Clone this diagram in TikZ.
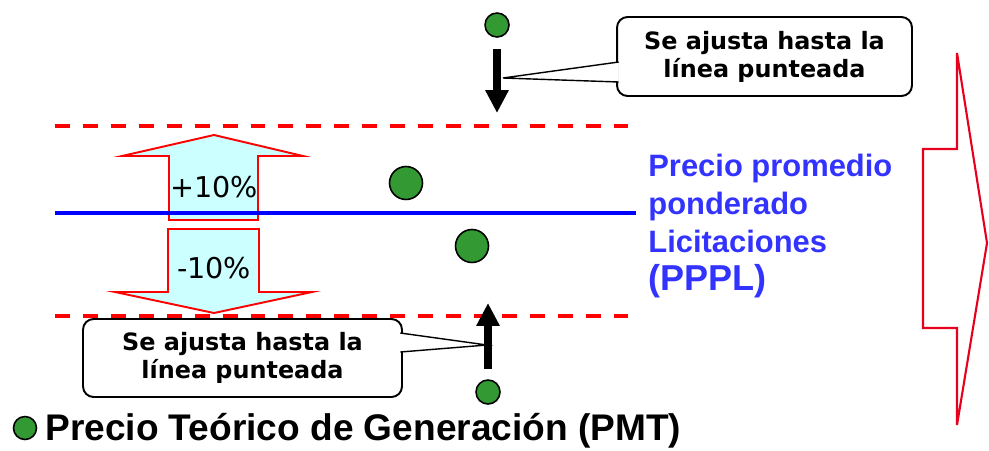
\documentclass[tikz,border=0pt]{standalone}
\usepackage{fontspec}
\setmainfont{Liberation Sans}
\newfontfamily\verd{DejaVu Sans}
\usepackage{tikz}
\usetikzlibrary{arrows.meta}
\usepackage{xcolor}
\definecolor{pmtgreen}{RGB}{51,153,51}
\definecolor{pplblue}{RGB}{51,51,255}
\definecolor{bandfill}{RGB}{204,255,255}
\definecolor{bigred}{RGB}{230,0,30}
\newcommand\notefont{\verd\bfseries\fontsize{13.6pt}{16pt}\selectfont}
\newcommand\pctfont{\verd\fontsize{16.3pt}{19pt}\selectfont}

\begin{document}
\begin{tikzpicture}[x=0.02cm,y=-0.02cm,
    dot/.style={circle,draw=black,line width=0.9pt,fill=pmtgreen,inner sep=0pt},
    limit/.style={red,line width=2.2pt,dash pattern=on 8.5pt off 7.4pt},
    band/.style={draw=red,line width=1.1pt,fill=bandfill},
    push/.style={line width=4.5pt,-{Triangle[length=13pt,width=12.5pt]}},
    note/.style={draw,line width=1.1pt,rounded corners=6pt,fill=white,align=center,font=\notefont,inner sep=0pt},
    pin/.style={draw,line width=0.8pt,fill=white}]
      \useasboundingbox (0,0) rectangle (989,450);
      \draw[limit] (55,126) -- (628,126);
      \draw[limit] (55,316) -- (628,316);
      \draw[band] (169,220) -- (169,156) -- (122,156) -- (214,135) -- (303,156) -- (258,156) -- (258,220) -- cycle;
      \draw[band] (168,229) -- (168,292) -- (115,292) -- (214,313) -- (312,292) -- (259,292) -- (259,229) -- cycle;
      \node[font=\pctfont] (plus) at (214,187) {+10\%};
      \node[font=\pctfont] (minus) at (214,268) {-10\%};
      \draw[blue,line width=2.2pt] (55,213) -- (636,213);
      \node[dot,minimum size=0.48cm] (topdot) at (497,25) {};
      \node[dot,minimum size=0.66cm] (highdot) at (406,183) {};
      \node[dot,minimum size=0.66cm] (lowdot) at (472,246) {};
      \node[dot,minimum size=0.48cm] (botdot) at (488,392) {};
      \coordinate (toptip) at (497,113);
      \coordinate (bottip) at (488,303);
      \draw[push] ([yshift=-0.22cm]topdot.south) -- (toptip);
      \draw[push] ([yshift=0.2cm]botdot.north) -- (bottip);
      \node[note,minimum width=5.9cm,minimum height=1.58cm] (topnote) at (764.5,56.5) {Se ajusta hasta la\\línea punteada};
      \coordinate (toppin) at (503,78);
      \filldraw[pin] ([yshift=-0.11cm,xshift=1.5pt]topnote.west) -- (toppin) -- ([yshift=-0.51cm,xshift=1.5pt]topnote.west);
      \node[note,minimum width=6.38cm,minimum height=1.56cm] (botnote) at (242.5,358) {Se ajusta hasta la\\línea punteada};
      \coordinate (botpin) at (487,345);
      \filldraw[pin] ([yshift=0.5cm,xshift=-1.5pt]botnote.east) -- (botpin) -- ([yshift=0.12cm,xshift=-1.5pt]botnote.east);
      \draw[bigred,line width=1.2pt] (923,149) -- (957,149) -- (957,53) -- (987,243) -- (957,425) -- (957,328) -- (923,328) -- cycle;
      \node[anchor=north west,inner sep=0pt,align=left,text=pplblue,font=\bfseries\fontsize{17.6pt}{21.5pt}\selectfont] (pppl) at (648,154) {Precio promedio\\ponderado\\Licitaciones\\[0pt]{\fontsize{20.5pt}{21.5pt}\selectfont(PPPL)}};
      \node[dot,minimum size=0.46cm] (keydot) at (25,428) {};
      \node[anchor=base west,inner sep=0pt,font=\bfseries\fontsize{21.1pt}{25pt}\selectfont] (keytext) at (45,440) {Precio Teórico de Generación (PMT)};
    \end{tikzpicture}
\end{document}
